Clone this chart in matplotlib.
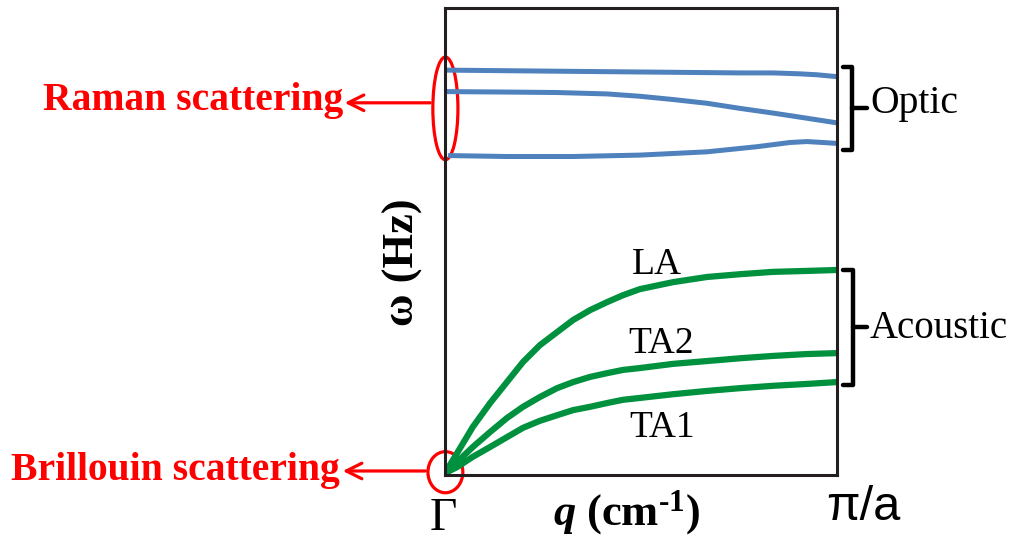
import matplotlib
matplotlib.use("Agg")
import matplotlib.pyplot as plt
from matplotlib.patches import Ellipse

plt.rcParams['font.family'] = ['Liberation Serif', 'DejaVu Serif']
plt.rcParams['mathtext.fontset'] = 'custom'
plt.rcParams['mathtext.rm'] = 'Liberation Serif:bold'
plt.rcParams['mathtext.it'] = 'Liberation Serif:italic:bold'
plt.rcParams['mathtext.bf'] = 'Liberation Serif:bold'

# wave vector (0 = Gamma, 1 = pi/a) and frequency (arbitrary units)
q_opt_top = [0, 0.242, 0.497, 0.753, 0.837, 0.906, 0.949, 1.0]
w_opt_top = [0.867, 0.865, 0.863, 0.861, 0.861, 0.859, 0.857, 0.853]
q_opt_mid = [0, 0.158, 0.286, 0.413, 0.497, 0.582, 0.668, 0.753, 0.837, 0.923, 1.0]
w_opt_mid = [0.821, 0.820, 0.819, 0.816, 0.811, 0.804, 0.796, 0.785, 0.775, 0.764, 0.754]
q_opt_low = [0.008, 0.158, 0.327, 0.497, 0.668, 0.796, 0.880, 0.923, 0.964, 1.0]
w_opt_low = [0.684, 0.682, 0.682, 0.685, 0.692, 0.703, 0.712, 0.714, 0.712, 0.710]

q_ac = [0, 0.031, 0.071, 0.115, 0.158, 0.199, 0.242, 0.286, 0.327, 0.370,
        0.413, 0.454, 0.497, 0.582, 0.668, 0.753, 0.837, 0.923, 1.0]
w_la = [0.004, 0.047, 0.103, 0.154, 0.199, 0.242, 0.278, 0.306, 0.332, 0.353,
        0.370, 0.385, 0.398, 0.413, 0.424, 0.430, 0.435, 0.437, 0.439]
w_ta2 = [0.004, 0.028, 0.060, 0.092, 0.122, 0.146, 0.167, 0.186, 0.199, 0.210,
         0.218, 0.225, 0.229, 0.238, 0.244, 0.250, 0.255, 0.259, 0.261]
w_ta1 = [0.004, 0.017, 0.039, 0.060, 0.081, 0.101, 0.116, 0.128, 0.139, 0.146,
         0.154, 0.161, 0.165, 0.173, 0.180, 0.186, 0.191, 0.195, 0.199]

blue = "#4F81BD"
green = "#00913F"
red = "#FF0000"

fig = plt.figure(figsize=(10.1, 5.39), dpi=100)
ax = fig.add_axes([445/1010, 64/539, 392/1010, 467/539])
ax.set_xlim(0, 1)
ax.set_ylim(0, 1)
ax.set_xticks([])
ax.set_yticks([])
for s in ax.spines.values():
    s.set_linewidth(2.2)
    s.set_color("#231F20")

for q, w in [(q_opt_top, w_opt_top), (q_opt_mid, w_opt_mid), (q_opt_low, w_opt_low)]:
    ax.plot(q, w, color=blue, lw=3.6, solid_capstyle="butt", solid_joinstyle="round")
for w in [w_la, w_ta2, w_ta1]:
    ax.plot(q_ac, w, color=green, lw=4.5, solid_capstyle="butt", solid_joinstyle="round")

# scattering markers
ax.add_patch(Ellipse((0.001, 0.785), 0.064, 0.22, fill=False, ec=red, lw=2.3, clip_on=False))
ax.add_patch(Ellipse((0.001, 0.006), 0.089, 0.088, fill=False, ec=red, lw=2.3, clip_on=False))
arrow = dict(arrowstyle="->", color=red, lw=2.3, mutation_scale=28)
ax.annotate("", xy=(-0.263, 0.797), xytext=(-0.031, 0.797), arrowprops=arrow, annotation_clip=False)
ax.annotate("", xy=(-0.268, 0.0086), xytext=(-0.043, 0.0086), arrowprops=arrow, annotation_clip=False)
ax.text(-0.26, 0.782, "Raman scattering", color=red, fontsize=28.5, fontweight="bold",
        ha="right", va="baseline", clip_on=False)
ax.text(-0.268, -0.011, "Brillouin scattering", color=red, fontsize=28.5, fontweight="bold",
        ha="right", va="baseline", clip_on=False)

# branch labels
ax.text(0.541, 0.430, "LA", fontsize=27, ha="center", va="baseline")
ax.text(0.551, 0.261, "TA2", fontsize=27, ha="center", va="baseline")
ax.text(0.554, 0.081, "TA1", fontsize=27, ha="center", va="baseline")

# brackets
def bracket(x, top, bot, mid):
    ax.plot([1.015, x, x, 1.015], [top, top, bot, bot], color="black", lw=3.2,
            solid_joinstyle="round", solid_capstyle="round", clip_on=False)
    ax.plot([x, 1.077], [mid, mid], color="black", lw=3.2, solid_capstyle="round", clip_on=False)

bracket(1.038, 0.874, 0.696, 0.786)
bracket(1.041, 0.439, 0.193, 0.317)
ax.text(1.084, 0.775, "Optic", fontsize=28.5, ha="left", va="baseline", clip_on=False)
ax.text(1.084, 0.293, "Acoustic", fontsize=28, ha="left", va="baseline", clip_on=False)

# axis labels
ax.text(-0.005, -0.118, "\u0393", fontsize=34, ha="center", va="baseline", clip_on=False)
ax.text(1.066, -0.096, "\u03c0/a", fontsize=35, family="Liberation Sans", ha="center",
        va="baseline", clip_on=False)
ax.text(0.462, -0.107, r"$\it{q}$ (cm$^{\text{-1}}$)", fontsize=32, fontweight="bold",
        ha="center", va="baseline", clip_on=False)
ax.text(-0.107, 0.456, "\u03c9 (Hz)", fontsize=32, fontweight="bold", rotation=90,
        ha="center", va="center", clip_on=False)

fig.savefig("out.png", dpi=100)
